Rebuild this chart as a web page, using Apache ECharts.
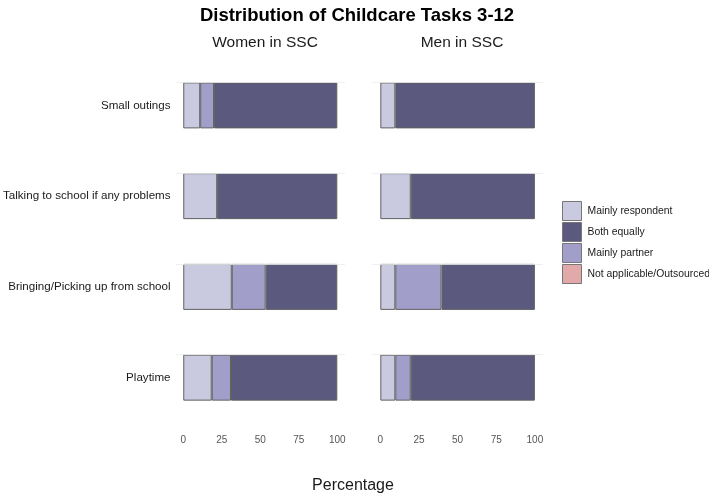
<!DOCTYPE html>
<html>
<head>
<meta charset="utf-8">
<script src="https://cdn.jsdelivr.net/npm/echarts@6/dist/echarts.min.js"></script>
<style>html,body{margin:0;padding:0;background:#fff}#c{width:709px;height:495px}</style>
</head>
<body>
<div id="c"></div>
<script>
var categories = ['Small outings', 'Talking to school if any problems', 'Bringing/Picking up from school', 'Playtime'];
var panels = ['Women in SSC', 'Men in SSC'];
var seriesNames = ['Mainly respondent', 'Both equally', 'Mainly partner', 'Not applicable/Outsourced'];
var tickValues = [0, 25, 50, 75, 100];

var womenRespondent = [11, 22, 31.5, 18.5];
var womenBoth = [80, 78, 46.5, 69];
var womenPartner = [9, 0, 22, 12.5];
var womenNA = [0, 0, 0, 0];

var menRespondent = [9.7, 19.7, 9.7, 9.7];
var menBoth = [90.3, 80.3, 60.4, 80.3];
var menPartner = [0, 0, 29.9, 10];
var menNA = [0, 0, 0, 0];

var colors = {
  'Mainly respondent': '#c9cadf',
  'Both equally': '#5b5a7e',
  'Mainly partner': '#a19fca',
  'Not applicable/Outsourced': '#e1aaa9'
};
var FONT = '"Liberation Sans", Arial, Helvetica, sans-serif';

var chart = echarts.init(document.getElementById('c'));

var gridLefts = [175, 372.6];
var grids = gridLefts.map(function (l) { return { left: l, width: 170, top: 60, height: 363 }; });

var xAxes = [0, 1].map(function (i) {
  return {
    type: 'value', gridIndex: i, min: -5, max: 105,
    axisLine: { show: false }, axisTick: { show: false }, splitLine: { show: false },
    axisLabel: { customValues: tickValues, color: '#555', fontSize: 10, fontFamily: FONT, margin: 12 }
  };
});
var yAxes = [0, 1].map(function (i) {
  return {
    type: 'category', gridIndex: i, data: categories, inverse: true,
    axisLine: { show: false }, axisTick: { show: false }, splitLine: { show: false },
    axisLabel: { show: i === 0, color: '#1a1a1a', fontSize: 11.6, fontFamily: FONT, margin: 5 }
  };
});

var panelData = [
  { 'Mainly respondent': womenRespondent, 'Both equally': womenBoth, 'Mainly partner': womenPartner, 'Not applicable/Outsourced': womenNA },
  { 'Mainly respondent': menRespondent, 'Both equally': menBoth, 'Mainly partner': menPartner, 'Not applicable/Outsourced': menNA }
];
// stacking order left to right: respondent, partner, both, NA
var stackOrder = ['Mainly respondent', 'Mainly partner', 'Both equally', 'Not applicable/Outsourced'];

var series = [];
[0, 1].forEach(function (p) {
  series.push({
    type: 'bar', name: 'grid' + p, xAxisIndex: p, yAxisIndex: p, data: [], z: 1, silent: true,
    markLine: {
      silent: true, symbol: 'none', label: { show: false },
      lineStyle: { color: '#ebebeb', width: 0.8, type: 'solid' },
      data: categories.map(function (c) { return { yAxis: c }; })
    }
  });
  stackOrder.forEach(function (name) {
    series.push({
      type: 'bar', name: name, stack: 'p' + p, xAxisIndex: p, yAxisIndex: p,
      data: panelData[p][name].map(function (v) { return v === 0 ? '-' : v; }), barWidth: 46, z: 3,
      itemStyle: { color: colors[name], borderColor: '#606060', borderWidth: 1 }
    });
  });
});

chart.setOption({
  animation: false,
  backgroundColor: '#fff',
  title: [
    { text: 'Distribution of Childcare Tasks 3-12', left: 352, top: 1, textAlign: 'center',
      textStyle: { fontSize: 18.5, fontWeight: 'bold', color: '#000', fontFamily: FONT } },
    { text: panels[0], left: 260, top: 30, textAlign: 'center',
      textStyle: { fontSize: 15.5, fontWeight: 'normal', color: '#1a1a1a', fontFamily: FONT } },
    { text: panels[1], left: 457, top: 30, textAlign: 'center',
      textStyle: { fontSize: 15.5, fontWeight: 'normal', color: '#1a1a1a', fontFamily: FONT } },
    { text: 'Percentage', left: 348, top: 473, textAlign: 'center',
      textStyle: { fontSize: 16, fontWeight: 'normal', color: '#1a1a1a', fontFamily: FONT } }
  ],
  legend: {
    data: seriesNames, orient: 'vertical', left: 562, top: 201, padding: 0,
    itemWidth: 19, itemHeight: 19, itemGap: 1, icon: 'rect',
    itemStyle: { borderColor: '#777', borderWidth: 1 },
    textStyle: { fontSize: 10.4, color: '#1a1a1a', fontFamily: FONT, padding: [0, 0, 0, 1] },
    selectedMode: false
  },
  grid: grids,
  xAxis: xAxes,
  yAxis: yAxes,
  series: series
});
</script>
</body>
</html>
